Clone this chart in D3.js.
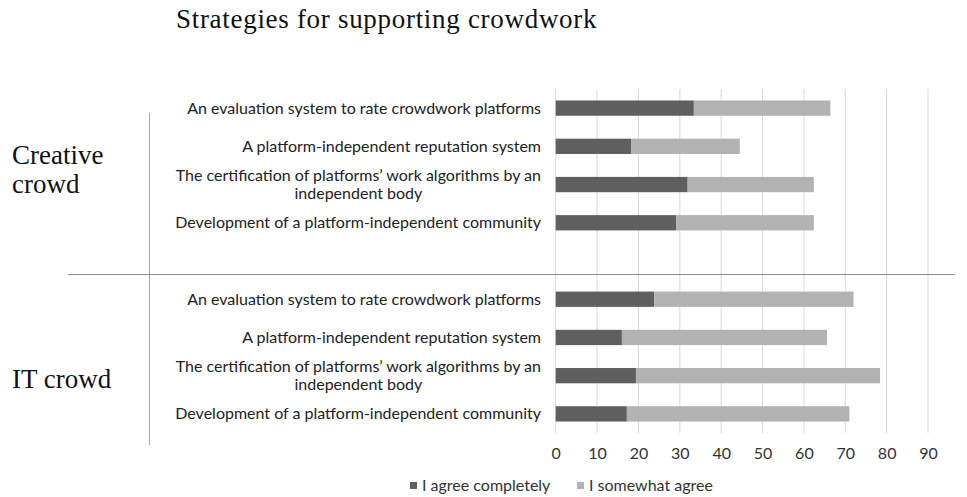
<!DOCTYPE html>
<html>
<head>
<meta charset="utf-8">
<script src="https://cdn.jsdelivr.net/npm/d3@7"></script>
<style>
  html, body { margin: 0; padding: 0; background: #ffffff; }
  svg { display: block; }
</style>
</head>
<body>
<svg id="chart" width="967" height="497"></svg>
<script>
// Strategy labels (a line break marks where the long label wraps)
const strategies = [
  "An evaluation system to rate crowdwork platforms",
  "A platform-independent reputation system",
  "The certification of platforms’ work algorithms by an\nindependent body",
  "Development of a platform-independent community"
];
const groups = ["Creative\ncrowd", "IT crowd"];
const seriesNames = ["I agree completely", "I somewhat agree"];

// Shares in percent, per group, in the order of `strategies`
const creativeComplete = [33.4, 18.2, 31.9, 29.1];
const creativeSomewhat = [33.0, 26.3, 30.5, 33.3];
const itComplete = [23.8, 16.0, 19.4, 17.2];
const itSomewhat = [48.2, 49.6, 59.0, 53.8];

const xTicks = [0, 10, 20, 30, 40, 50, 60, 70, 80, 90];

const colors = ["#5f5f5f", "#b2b2b2"];
const labelFont = "Lato, 'Open Sans', sans-serif";
const serifFont = "'Liberation Serif', 'DejaVu Serif', serif";

// Rows: creative strategies, one empty spacer row, IT strategies
const rows = [];
strategies.forEach((s, i) => rows.push({ key: "c" + i, label: s, values: [creativeComplete[i], creativeSomewhat[i]] }));
rows.push({ key: "gap", label: "", values: null });
strategies.forEach((s, i) => rows.push({ key: "i" + i, label: s, values: [itComplete[i], itSomewhat[i]] }));

const svg = d3.select("#chart");

const x = d3.scaleLinear().domain([0, 90]).range([555.7, 928]);
const y = d3.scaleBand().domain(rows.map(r => r.key)).range([89, 433]).paddingInner(0.6).paddingOuter(0.3);

// Title
svg.append("text")
  .attr("x", 176).attr("y", 28)
  .attr("font-family", serifFont).attr("font-size", 27)
  .attr("letter-spacing", 0.7)
  .attr("fill", "#111")
  .text("Strategies for supporting crowdwork");

// Vertical gridlines
svg.append("g").selectAll("line").data(xTicks).join("line")
  .attr("x1", d => x(d)).attr("x2", d => x(d))
  .attr("y1", 89).attr("y2", 433)
  .attr("stroke", "#d9d9d9").attr("stroke-width", 1);

// X axis tick labels
const xAxis = d3.axisBottom(x).tickValues(xTicks).tickSize(0).tickPadding(0);
const gx = svg.append("g").attr("transform", "translate(0,448)").call(xAxis);
gx.select(".domain").remove();
gx.selectAll("text").attr("font-family", labelFont).attr("font-size", 16).attr("fill", "#333").attr("dy", "0.71em");

// Stacked bars
const barRows = rows.filter(r => r.values);
const stacked = barRows.map(r => {
  let acc = 0;
  return r.values.map((v, k) => { const seg = { key: r.key, k, x0: acc, x1: acc + v }; acc += v; return seg; });
}).flat();

svg.append("g").selectAll("rect").data(stacked).join("rect")
  .attr("x", d => x(d.x0))
  .attr("width", d => x(d.x1) - x(d.x0))
  .attr("y", d => y(d.key))
  .attr("height", y.bandwidth())
  .attr("fill", d => colors[d.k]);

// Category labels, right aligned against the plot
const lab = svg.append("g").selectAll("text").data(barRows).join("text")
  .attr("font-family", labelFont).attr("font-size", 16).attr("fill", "#222")
  .attr("text-anchor", "end");
lab.each(function (d) {
  const lines = d.label.split("\n");
  const cy = y(d.key) + y.bandwidth() / 2;
  const t = d3.select(this);
  if (lines.length === 1) {
    t.attr("x", 541).attr("y", cy).attr("dy", "0.35em").text(lines[0]);
  } else {
    t.attr("x", 541).attr("y", cy - 9).attr("dy", "0.35em").text(lines[0]);
    const w = this.getComputedTextLength();
    svg.append("text")
      .attr("font-family", labelFont).attr("font-size", 16).attr("fill", "#222")
      .attr("text-anchor", "middle")
      .attr("x", 541 - w / 2).attr("y", cy + 9).attr("dy", "0.35em")
      .text(lines[1]);
  }
});

// Group dividers
svg.append("line").attr("x1", 149.5).attr("x2", 149.5).attr("y1", 113).attr("y2", 445)
  .attr("stroke", "#a6a6a6").attr("stroke-width", 1);
svg.append("line").attr("x1", 68).attr("x2", 955).attr("y1", 274.5).attr("y2", 274.5)
  .attr("stroke", "#8c8c8c").attr("stroke-width", 1);

// Group names
const groupPos = [{ x: 12, y: 164 }, { x: 12, y: 388 }];
groups.forEach((g, i) => {
  g.split("\n").forEach((line, j) => {
    svg.append("text")
      .attr("x", groupPos[i].x).attr("y", groupPos[i].y + j * 29)
      .attr("font-family", serifFont).attr("font-size", 27).attr("fill", "#111")
      .text(line);
  });
});

// Legend
const legendX = [410, 577];
const lg = svg.append("g").selectAll("g").data(seriesNames).join("g")
  .attr("transform", (d, i) => `translate(${legendX[i]},482)`);
lg.append("rect").attr("width", 7).attr("height", 7).attr("fill", (d, i) => colors[i]);
lg.append("text").attr("x", 12).attr("y", 3.5).attr("dy", "0.35em")
  .attr("font-family", labelFont).attr("font-size", 16).attr("fill", "#333")
  .text(d => d);
</script>
</body>
</html>
